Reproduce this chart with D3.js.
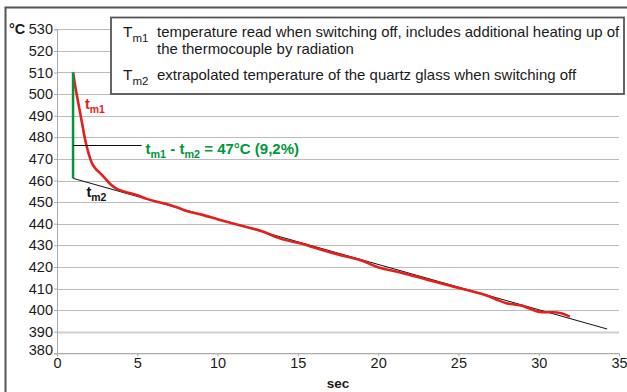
<!DOCTYPE html>
<html><head><meta charset="utf-8">
<script src="https://cdn.jsdelivr.net/npm/d3@7"></script>
<style>
html,body{margin:0;padding:0;background:#fff;}
svg{display:block;font-family:"Liberation Sans",Arial,Helvetica,sans-serif;}
</style></head>
<body>
<svg id="c" width="627" height="392"></svg>
<script>
// data
const xTicks = [0,5,10,15,20,25,30,35];
const yTicks = [380,390,400,410,420,430,440,450,460,470,480,490,500,510,520,530];
const redT = [1.0,1.15,1.35,1.55,1.75,1.95,2.15,2.4,2.7,3.0,3.3,3.7,4.2,4.96,5.6,6.2,7.03,7.5,8.07,9.0,10.04,11.5,12.85,13.87,15.13,16.31,17.5,18.87,19.91,21.5,23.0,25.1,26.96,27.5,28.0,29.03,29.5,29.97,30.4,30.9,31.4,31.94];
const redV = [510,503,495,487,479,473,468.5,465.5,463.3,461,458.5,456.2,454.8,453.3,451.5,450.2,448.7,447.5,445.9,444.2,442,439,436.3,433.2,430.9,428.3,425.8,423.2,420.1,417.2,414.2,410.1,406.2,404.5,403.2,401.9,400.5,399.3,399.0,399.0,398.5,397];
const fitT = [1, 34.26];
const fitV = [461, 391.25];
const markT = 1, markTop = 510, markBottom = 461;
const diffY = 476.4, diffEndT = 5.27;
const legendItems = [
  {sym:"T", sub:"m1", lines:["temperature read when switching off, includes additional heating up of","the thermocouple by radiation"]},
  {sym:"T", sub:"m2", lines:["extrapolated temperature of the quartz glass when switching off"]}
];

const svg = d3.select("#c");
const x = d3.scaleLinear().domain([0,35]).range([57,619]);
const y = d3.scaleLinear().domain([380,530]).range([353.3,29.3]);

// outer frame (top and left)
svg.append("path").attr("d","M5.5,392 L5.5,7.5 L627,7.5").attr("fill","none").attr("stroke","#555").attr("stroke-width",2);

// grid
svg.append("g").selectAll("line").data(yTicks).join("line")
  .attr("x1",x(0)).attr("x2",x(35)).attr("y1",d=>Math.round(y(d))+0.5).attr("y2",d=>Math.round(y(d))+0.5)
  .attr("stroke",d=>d===390?"#d0d0d0":"#bbbbbb").attr("stroke-width",d=>d===390?2:1);

// y axis
const ya = svg.append("g").attr("transform",`translate(${x(0)},0)`)
  .call(d3.axisLeft(y).tickValues(yTicks).tickSize(3).tickPadding(1).tickFormat(d3.format("d")));
ya.select(".domain").attr("stroke","#aaa");
ya.selectAll(".tick line").attr("stroke","#aaa");
ya.selectAll(".tick text").attr("font-size",14.5).attr("fill","#1a1a1a").attr("font-family","Liberation Sans, Arial, sans-serif");
ya.selectAll(".tick").filter(d=>d===380).select("text").attr("dy","0.1em");

// x axis
const xa = svg.append("g").attr("transform",`translate(0,${y(380)})`)
  .call(d3.axisBottom(x).tickValues(xTicks).tickSize(3).tickPadding(1).tickFormat(d3.format("d")));
xa.select(".domain").attr("stroke","#aaa");
xa.selectAll(".tick line").attr("stroke","#aaa");
xa.selectAll(".tick text").attr("font-size",14.5).attr("fill","#1a1a1a").attr("font-family","Liberation Sans, Arial, sans-serif");

svg.append("text").attr("x",9).attr("y",33.5).attr("font-size",14.5).attr("font-weight","bold").attr("fill","#1a1a1a").text("°C");
svg.append("text").attr("x",338).attr("y",388).attr("text-anchor","middle").attr("font-size",13.5).attr("font-weight","bold").attr("fill","#1a1a1a").text("sec");

// fit line
svg.append("line").attr("x1",x(fitT[0])).attr("y1",y(fitV[0])).attr("x2",x(fitT[1])).attr("y2",y(fitV[1]))
  .attr("stroke","#111").attr("stroke-width",1);

// red curve
const redData = redT.map((t,i)=>[t,redV[i]]);
svg.append("path").datum(redData)
  .attr("d",d3.line().x(d=>x(d[0])).y(d=>y(d[1])).curve(d3.curveMonotoneX))
  .attr("fill","none").attr("stroke","#e3201b").attr("stroke-width",2.6).attr("stroke-linejoin","round");

// green vertical
svg.append("line").attr("x1",x(markT)).attr("x2",x(markT)).attr("y1",y(markTop)).attr("y2",y(markBottom))
  .attr("stroke","#00973a").attr("stroke-width",2.5);
// diff pointer line
svg.append("line").attr("x1",x(markT)).attr("x2",x(diffEndT)).attr("y1",Math.round(y(diffY))+0.5).attr("y2",Math.round(y(diffY))+0.5)
  .attr("stroke","#111").attr("stroke-width",1);

function subLabel(xp, yp, parts, color, size){
  const t = svg.append("text").attr("x",xp).attr("y",yp).attr("font-size",size).attr("font-weight","bold").attr("fill",color);
  parts.forEach(p=>{
    const ts = t.append("tspan").text(p.t);
    if(p.sub){ ts.attr("font-size",size*0.72).attr("dy",size*0.28); }
    else if(p.back){ ts.attr("dy",-size*0.28); }
  });
  return t;
}
subLabel(85,109,[{t:"t"},{t:"m1",sub:true}],"#e3201b",14.5);
subLabel(86.5,197,[{t:"t"},{t:"m2",sub:true}],"#111",14.5);
subLabel(145.5,154,[{t:"t"},{t:"m1",sub:true},{t:" - t",back:true},{t:"m2",sub:true},{t:" = 47°C (9,2%)",back:true}],"#00973a",15);

// legend box
const lg = svg.append("g");
lg.append("rect").attr("x",111).attr("y",17.5).attr("width",513).attr("height",76.5).attr("fill","#fff").attr("stroke","#555").attr("stroke-width",1.8);
const lineY = [[36.5,53.5],[79.5]];
legendItems.forEach((it,i)=>{
  const s = lg.append("text").attr("x",123).attr("y",lineY[i][0]).attr("font-size",15.5).attr("fill","#1a1a1a");
  s.append("tspan").text(it.sym);
  s.append("tspan").attr("font-size",11.5).attr("dy",5).text(it.sub);
  it.lines.forEach((ln,j)=>{
    lg.append("text").attr("x",157).attr("y",lineY[i][j]).attr("font-size",14.95).attr("fill","#1a1a1a").text(ln);
  });
});
</script>
</body></html>
